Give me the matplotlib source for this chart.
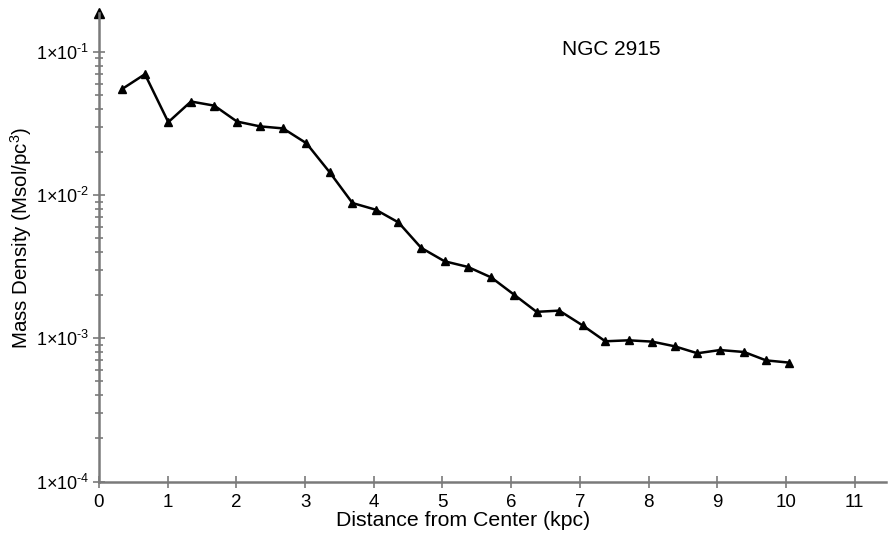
import numpy as np
import matplotlib
matplotlib.use("Agg")
import matplotlib.pyplot as plt
from matplotlib.ticker import LogLocator, FixedLocator

plt.rcParams['font.family'] = ['Liberation Sans', 'DejaVu Sans']
plt.rcParams['mathtext.fontset'] = 'custom'
plt.rcParams['mathtext.rm'] = 'Liberation Sans'
plt.rcParams['mathtext.it'] = 'Liberation Sans'

# radial mass density profile, NGC 2915
radius_kpc = [0.34, 0.67, 1.01, 1.34, 1.68, 2.01, 2.34, 2.68, 3.02, 3.36,
              3.69, 4.03, 4.36, 4.69, 5.03, 5.37, 5.71, 6.04, 6.37, 6.70,
              7.04, 7.37, 7.71, 8.05, 8.38, 8.71, 9.04, 9.39, 9.71, 10.05]
density = [0.0551, 0.0698, 0.0323, 0.0450, 0.0421, 0.0326, 0.0302, 0.0292, 0.0230, 0.0144,
           0.0088, 0.0079, 0.00644, 0.00428, 0.00345, 0.00315, 0.00266, 0.00202, 0.00153, 0.00156,
           0.00123, 0.000953, 0.000968, 0.000948, 0.000879, 0.000786, 0.000828, 0.000802, 0.000701, 0.000676]

x_ticks = list(range(0, 12))
y_decades = [1e-4, 1e-3, 1e-2, 1e-1]
# hyphen (U+2010) in the exponent instead of a full-width minus
y_labels = ['$1{\\times}10^{\u20104}$', '$1{\\times}10^{\u20103}$',
            '$1{\\times}10^{\u20102}$', '$1{\\times}10^{\u20101}$']

axis_gray = '#7a7a7a'

fig = plt.figure(figsize=(8.91, 5.38), dpi=100)
ax = fig.add_axes([0.111, 0.105, 0.883, 0.871])

ax.plot(radius_kpc, density, color='black', linewidth=1.8,
        marker='^', markersize=5.5, markerfacecolor='black', markeredgecolor='black')

ax.set_yscale('log')
ax.set_xlim(0, 11.45)
ax.set_ylim(1e-4, 0.187)

for side in ['top', 'right']:
    ax.spines[side].set_visible(False)
for side in ['left', 'bottom']:
    ax.spines[side].set_color(axis_gray)
    ax.spines[side].set_linewidth(1.8)

ax.xaxis.set_major_locator(FixedLocator(x_ticks))
ax.set_xticklabels([str(t) for t in x_ticks])
ax.yaxis.set_major_locator(FixedLocator(y_decades))
ax.set_yticklabels(y_labels)
ax.yaxis.set_minor_locator(LogLocator(base=10, subs=np.arange(2, 10)))
ax.yaxis.set_minor_formatter(plt.NullFormatter())

ax.tick_params(axis='both', which='both', direction='inout', color=axis_gray,
               width=1.2, labelcolor='black')
ax.tick_params(axis='x', labelsize=13.5, pad=5)
ax.tick_params(axis='y', labelsize=13, pad=3)
ax.tick_params(axis='both', which='major', length=8)
ax.tick_params(axis='y', which='minor', length=6)

# arrow head at the top of the y axis
ax.plot([0], [0.187], marker='^', color='black', markersize=7, clip_on=False)

ax.set_xlabel('Distance from Center (kpc)', fontsize=15.3)
ax.xaxis.set_label_coords(0.4625, -0.062)
ax.set_ylabel(r'Mass Density (Msol/pc$^{3}$)', fontsize=14.8)
ax.yaxis.set_label_coords(-0.082, 0.52)

ax.text(0.588, 0.922, 'NGC 2915', transform=ax.transAxes, fontsize=15,
        ha='left', va='center')

fig.savefig('out.png', dpi=100)
